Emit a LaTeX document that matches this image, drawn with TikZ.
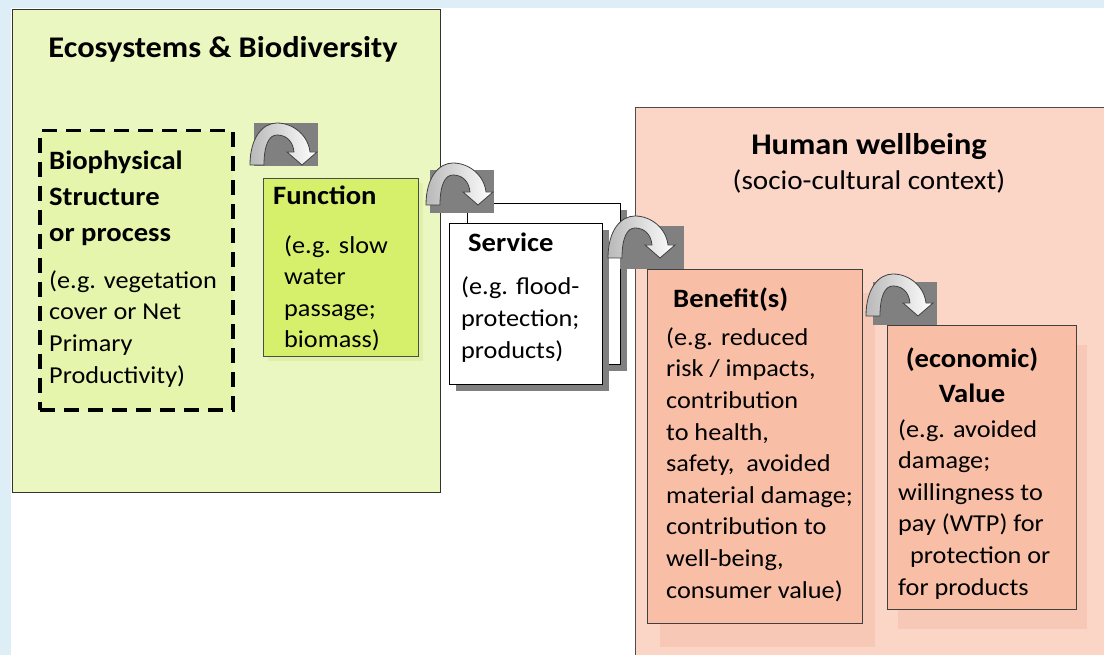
\documentclass[tikz,border=0pt]{standalone}
\usepackage{fontspec}
\setmainfont{Carlito}[FakeStretch=1.08]
\usetikzlibrary{positioning,shadows}
\usepackage{xcolor}

\definecolor{bgblue}{RGB}{221,238,246}
\definecolor{ecofill}{RGB}{235,247,192}
\definecolor{dashfill}{RGB}{229,245,172}
\definecolor{funcfill}{RGB}{214,240,108}
\definecolor{funcshade}{RGB}{224,240,168}
\definecolor{humanfill}{RGB}{251,213,198}
\definecolor{benefill}{RGB}{248,190,166}
\definecolor{beneshade}{RGB}{247,200,181}
\definecolor{arrowgray}{RGB}{128,128,128}

\tikzset{
    box/.style={draw, rectangle, anchor=north west, inner sep=0pt},
    bigtitle/.style={anchor=base, inner sep=0pt, font=\fontsize{30}{36}\selectfont\bfseries},
    boxtitle/.style={anchor=base west, align=left, inner sep=0pt, font=\fontsize{26.5}{36}\selectfont\bfseries},
    boxtext/.style={anchor=base west, align=left, inner sep=0pt, font=\fontsize{24.3}{31.6}\selectfont},
    arrowbox/.style={fill=arrowgray},
    turnarrow/.pic={
        \draw[draw=black!75, line width=0.8pt, left color=gray!55, right color=white]
            (-27,42) .. controls (-27,14) and (-14,0) .. (0,0)
            .. controls (16,0) and (31,12) .. (33,29)
            -- (40,29) -- (25,42) -- (10,29) -- (17,29)
            .. controls (16,18) and (9,12) .. (0,12)
            .. controls (-8,12) and (-13,22) .. (-13,42) -- cycle;
    }
}

\begin{document}
\begin{tikzpicture}[x=1pt, y=-1pt]
    \useasboundingbox (0,0) rectangle (1104,655);
    \clip (0,0) rectangle (1104,655);
    \fill[bgblue] (0,0) rectangle (1104,655);
    \fill[white] (11,8) rectangle (1104,655);

    % left part (text nodes sit on the baseline of their last line)
    \node (eco) [box, draw=black!80, fill=ecofill, minimum width=428pt, minimum height=483pt] at (12,9) {};
    \node (ecotitle) [bigtitle] at (223,58) {Ecosystems \& Biodiversity};

    \node (struct) [box, fill=dashfill, line width=3.5pt, dash pattern=on 15pt off 9pt, minimum width=193pt, minimum height=279pt] at (38,129) {};
    \node (structtitle) [boxtitle] at (49,242) {Biophysical\\Structure\\or process};
    \node (structtext) [boxtext] at (49,383) {(e.g. vegetation\\cover or Net\\Primary\\Productivity)};

    \node (func) [box, draw=black!70, fill=funcfill, minimum width=155pt, minimum height=178pt,
        drop shadow={shadow xshift=5pt, shadow yshift=-5pt, fill=funcshade, opacity=1}] at (263,178) {};
    \node (functitle) [boxtitle] at (273,205) {Function};
    \node (functext) [boxtext] at (284,348) {(e.g. slow\\water\\passage;\\biomass)};

    % right part
    \node (human) [box, draw=black!70, fill=humanfill, minimum width=500pt, minimum height=600pt] at (635,107) {};
    \node (humantitle) [bigtitle] at (869,155) {Human wellbeing};
    \node (humantext) [bigtitle, font=\fontsize{27}{32}\selectfont] at (869,190) {(socio-cultural context)};

    \node (servback) [box, fill=white, minimum width=153pt, minimum height=161pt,
        drop shadow={shadow xshift=7pt, shadow yshift=-7pt, fill=arrowgray, opacity=1}] at (467,203) {};
    \node (serv) [box, fill=white, minimum width=153pt, minimum height=161pt,
        drop shadow={shadow xshift=7pt, shadow yshift=-7pt, fill=arrowgray, opacity=1}] at (449,223) {};
    \node (servtitle) [boxtitle] at (468,252) {Service};
    \node (servtext) [boxtext] at (461,358) {(e.g. flood-\\protection;\\products)};

    \node (benefit) [box, draw=black!75, fill=benefill, minimum width=215pt, minimum height=354pt,
        drop shadow={shadow xshift=13pt, shadow yshift=-24pt, fill=beneshade, opacity=1}] at (647,269) {};
    \node (benefittitle) [boxtitle] at (673,308) {Benefit(s)};
    \node (benefittext) [boxtext] at (666,598) {(e.g. reduced\\risk / impacts,\\contribution\\to health,\\safety,~ avoided\\material damage;\\contribution to\\well-being,\\consumer value)};

    \node (value) [box, draw=black!75, fill=benefill, minimum width=189pt, minimum height=284pt,
        drop shadow={shadow xshift=11pt, shadow yshift=-20pt, fill=beneshade, opacity=1}] at (887,325) {};
    \node (valuetitle) [boxtitle, anchor=base, align=center, font=\fontsize{26.5}{35}\selectfont\bfseries] at (972,402) {(economic)\\Value};
    \node (valuetext) [boxtext] at (898,595) {(e.g. avoided\\damage;\\willingness to\\pay (WTP) for\\\hspace{12pt}protection or\\for products};

    % turning arrows between the steps
    \foreach \ax/\ay/\rx/\ry in {277/123/254/123, 453/163/430/170, 635/216/620/226, 893/274/873/282} {
        \fill[arrowbox] (\rx,\ry) rectangle ++(64,43);
        \path (\ax,\ay) pic {turnarrow};
    }
\end{tikzpicture}
\end{document}
